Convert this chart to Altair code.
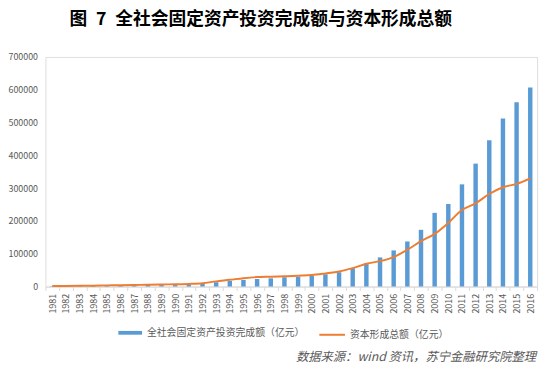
import altair as alt
import pandas as pd

years = [str(y) for y in range(1981, 2017)]
fixed_asset_investment = [
    961, 1230, 1430, 1833, 2543, 3121, 3792, 4754, 4410, 4517,
    5595, 8080, 13072, 17042, 20019, 22914, 24941, 28406, 29855, 32918,
    37214, 43500, 55567, 70477, 88774, 109998, 137324, 172828, 224599, 251684,
    311485, 374695, 446294, 512021, 562000, 606466,
]
capital_formation = [
    1630, 1784, 2039, 2515, 3457, 3941, 4462, 5700, 6333, 6747,
    7868, 10086, 15718, 20341, 25470, 28785, 29968, 31314, 32952, 34843,
    39769, 45565, 55963, 69168, 77534, 89823, 112047, 138243, 160500, 194000,
    233327, 253500, 282073, 302717, 312836, 329727,
]
y_ticks = [0, 100000, 200000, 300000, 400000, 500000, 600000, 700000]

name_bar = "全社会固定资产投资完成额（亿元）"
name_line = "资本形成总额（亿元）"
title_text = "图\u20027\u2002全社会固定资产投资完成额与资本形成总额"
source_text = "数据来源：wind 资讯，苏宁金融研究院整理"

FONT = "Noto Sans CJK SC"
GRAY = "#595959"

df = pd.DataFrame({
    "year": years,
    "fai": fixed_asset_investment,
    "gcf": capital_formation,
    "s_bar": [name_bar] * len(years),
    "s_line": [name_line] * len(years),
})

x_enc = alt.X(
    "year:N",
    sort=years,
    title=None,
    scale=alt.Scale(paddingInner=0, paddingOuter=0),
    axis=alt.Axis(
        labelAngle=270,
        labelFontSize=9,
        labelColor=GRAY,
        labelFont=FONT,
        domainColor="#d9d9d9",
        tickColor="#d9d9d9",
        tickSize=4,
        tickBand="extent",
        labelPadding=3,
        grid=False,
    ),
)
y_scale = alt.Scale(domain=[0, 700000], nice=False)
y_axis = alt.Axis(
    values=y_ticks,
    format="d",
    labelFontSize=9,
    labelColor=GRAY,
    labelFont=FONT,
    domain=False,
    ticks=False,
    grid=False,
    labelPadding=8,
)

base = alt.Chart(df)

bars = base.mark_bar(size=4.5).encode(
    x=x_enc,
    y=alt.Y("fai:Q", scale=y_scale, axis=y_axis, title=None),
    color=alt.Color(
        "s_bar:N",
        scale=alt.Scale(domain=[name_bar], range=["#5B9BD5"]),
        legend=alt.Legend(
            title=None,
            orient="none",
            legendX=74,
            legendY=268,
            symbolType="M-1,-0.16H1V0.16H-1Z",
            symbolSize=576,
            symbolStrokeWidth=0,
            labelFontSize=10,
            labelColor=GRAY,
            labelFont=FONT,
            labelOffset=5,
        ),
    ),
)

line = base.mark_line(strokeWidth=2, interpolate="monotone").encode(
    x=x_enc,
    y=alt.Y("gcf:Q", scale=y_scale, axis=y_axis, title=None),
    stroke=alt.Stroke(
        "s_line:N",
        scale=alt.Scale(domain=[name_line], range=["#ED7D31"]),
        legend=alt.Legend(
            title=None,
            orient="none",
            legendX=277,
            legendY=268,
            symbolType="stroke",
            symbolSize=676,
            symbolStrokeWidth=2,
            labelFontSize=10,
            labelColor=GRAY,
            labelFont=FONT,
            labelOffset=4,
        ),
    ),
)

source = alt.Chart(pd.DataFrame({"t": [source_text]})).mark_text(
    align="right",
    baseline="middle",
    font=FONT,
    fontSize=12.5,
    fontStyle="italic",
    color=GRAY,
).encode(text="t:N", x=alt.value(498), y=alt.value(305))

chart = (
    alt.layer(bars, line, source)
    .resolve_scale(color="independent")
    .properties(
        width=499,
        height=233,
        padding={"left": 38, "top": 47, "right": 5, "bottom": 78},
        autosize=alt.AutoSizeParams(type="none"),
        title=alt.TitleParams(
            text=title_text,
            font=FONT,
            fontSize=18,
            fontWeight="bold",
            color="#000000",
            anchor="middle",
            offset=24,
            dx=-31,
        ),
    )
    .configure_view(stroke=None)
    .configure(background="white")
)

chart.save("out.html", embed_options={"renderer": "svg", "actions": False})
